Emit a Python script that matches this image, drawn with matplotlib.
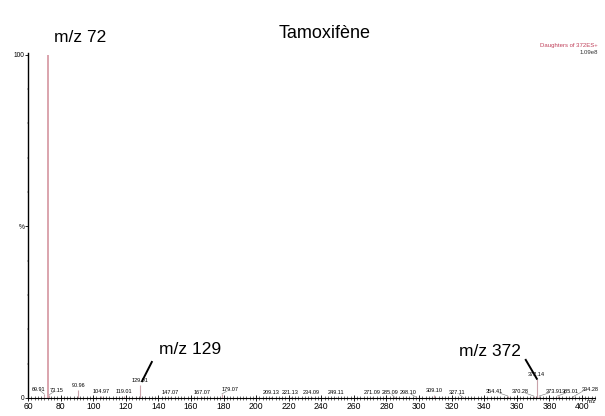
import matplotlib
matplotlib.use("Agg")
import numpy as np
import matplotlib.pyplot as plt
from matplotlib.ticker import MultipleLocator

plt.rcParams['font.family'] = ['Liberation Sans', 'DejaVu Sans']

# spectrum data (m/z, relative intensity %)
base_mz = 72.0
base_int = 100.0
peak_mz = [69.91, 73.15, 90.96, 104.97, 119.01, 129.01, 147.07, 167.07, 179.07,
           209.13, 221.13, 234.09, 249.11, 271.09, 285.09, 298.10, 309.10, 327.11,
           354.41, 370.28, 372.14, 373.91, 385.01, 394.28]
peak_int = [1.2, 1.0, 2.3, 0.6, 0.5, 3.8, 0.3, 0.3, 1.2,
            0.3, 0.2, 0.2, 0.2, 0.2, 0.2, 0.3, 0.8, 0.2,
            0.6, 0.6, 5.5, 0.6, 0.6, 0.3]
peak_labels = ['69.91', '73.15', '90.96', '104.97', '119.01', '129.01', '147.07', '167.07', '179.07',
               '209.13', '221.13', '234.09', '249.11', '271.09', '285.09', '298.10', '309.10', '327.11',
               '354.41', '370.28', '372.14', '373.91', '385.01', '394.28']
# label shifts (m/z units) to keep crowded labels apart
label_shift = {69.91: -3.5, 73.15: 4.5, 179.07: 5, 285.09: -3, 298.10: -5, 327.11: -4,
               354.41: -8, 370.28: -8, 373.91: 9, 385.01: 8, 394.28: 10.5}

fig = plt.figure(figsize=(6.05, 4.16), dpi=100)
ax = fig.add_axes([28/605, 1-398/416, (595-28)/605, (398-53)/416])

peak_col = '#c9a3aa'
ax.vlines(base_mz, 0, base_int, color='#dba4ad', lw=1.4)
ax.vlines(peak_mz, 0, peak_int, color=peak_col, lw=0.8)

for mz, h, lab in zip(peak_mz, peak_int, peak_labels):
    dx = label_shift.get(mz, 0)
    ty = h + 0.6
    if mz == 394.28:
        ty = 1.8
    ax.text(mz + dx, ty, lab, fontsize=4.0, ha='center', va='bottom', clip_on=False)
    if dx != 0:
        ax.plot([mz, mz + dx * 0.6], [h, ty + 0.2], color='#777777', lw=0.4)

ax.set_xlim(60, 408)
ax.set_ylim(0, 100.5)

ax.xaxis.set_minor_locator(MultipleLocator(2))
ax.set_xticks(np.arange(60, 401, 20))
ax.tick_params(axis='x', which='major', direction='inout', length=5, width=0.6,
               labelsize=6.2, pad=0.5)
ax.tick_params(axis='x', which='minor', direction='inout', length=2.5, width=0.4)

ax.set_yticks([0, 50, 100])
ax.set_yticklabels(['0', '%', '100'])
ax.yaxis.set_minor_locator(MultipleLocator(10))
ax.tick_params(axis='y', which='major', direction='out', length=2, width=0.6,
               labelsize=4.8, pad=0.5)
ax.tick_params(axis='y', which='minor', direction='out', length=1, width=0.3)

for s in ['top', 'right']:
    ax.spines[s].set_visible(False)
ax.spines['left'].set_linewidth(1.0)
ax.spines['bottom'].set_linewidth(0.8)

ax.text(406, -0.3, 'm/z', fontsize=4.2, ha='center', va='top', clip_on=False)

# annotations
fig.text(325/605, 1-33/416, 'Tamoxifène', fontsize=13, ha='center', va='center')
ax.text(92, 105, 'm/z 72', fontsize=12.5, ha='center', va='center', clip_on=False)
ax.text(159.4, 14, 'm/z 129', fontsize=12.5, ha='center', va='center')
ax.text(343.4, 13.4, 'm/z 372', fontsize=12.5, ha='center', va='center')
ax.plot([136, 130], [10.5, 4.9], color='black', lw=1.4)
ax.plot([365.5, 372.3], [11.1, 5.6], color='black', lw=1.4)

fig.text(598/605, 1-45/416, 'Daughters of 372ES+', fontsize=4.3, color='#c0405a',
         ha='right', va='center')
fig.text(598/605, 1-52/416, '1.09e8', fontsize=4.3, color='#333333',
         ha='right', va='center')

fig.savefig('out.png', dpi=100, facecolor='w')
